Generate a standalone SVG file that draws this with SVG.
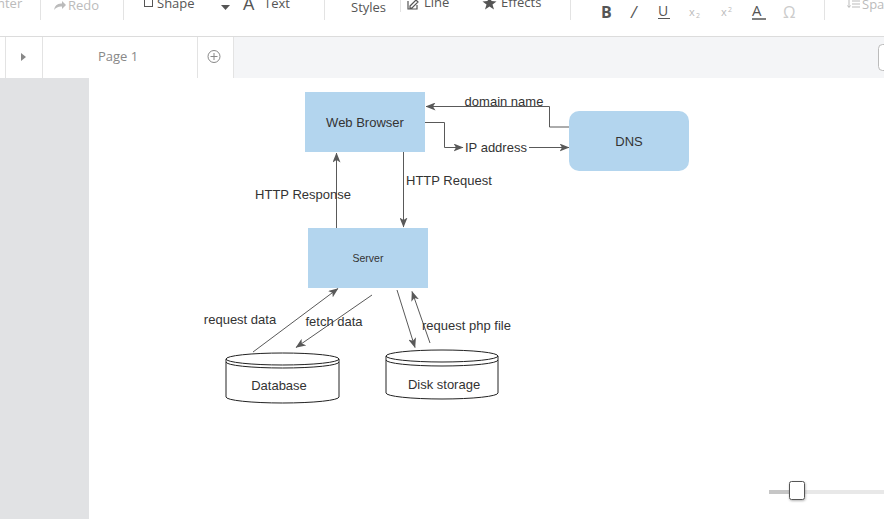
<svg xmlns="http://www.w3.org/2000/svg" width="884" height="519" viewBox="0 0 884 519">
<defs>
<marker id="arr" viewBox="0 0 10 8" refX="9.5" refY="4" markerWidth="10" markerHeight="8" markerUnits="userSpaceOnUse" orient="auto">
<path d="M0,0 L10,4 L0,8 L2.5,4 Z" fill="#595959"/>
</marker>
<filter id="sh" x="-30%" y="-30%" width="160%" height="160%"><feDropShadow dx="0.5" dy="1" stdDeviation="1" flood-color="#000" flood-opacity="0.3"/></filter>
</defs>
<style>
.ui{font-family:"Open Sans","Liberation Sans",sans-serif;font-size:13px;fill:#555}
.dis{fill:#bbb}
.sep{stroke:#e3e3e3;stroke-width:1}
.t{font-family:"Liberation Sans",Arial,sans-serif;font-size:13px;fill:#333}
.node{fill:#b3d5ee}
.cyl{fill:#fff;stroke:#222;stroke-width:1}
.edge{fill:none;stroke:#595959;stroke-width:1}
</style>
<rect width="884" height="519" fill="#fff"/>
<!-- toolbar -->
<g id="toolbar">
<text class="ui dis" x="-3" y="8">nter</text>
<line class="sep" x1="40.5" y1="0" x2="40.5" y2="20"/>
<path d="M54,10 Q55,3 62,3.5 L62,1 L66,5 L62,9 L62,6.5 Q57,6 54,10 Z" fill="#bbb"/>
<text class="ui dis" x="68" y="10">Redo</text>
<line class="sep" x1="123.5" y1="0" x2="123.5" y2="20"/>
<rect x="144.5" y="-1.5" width="8" height="8" fill="none" stroke="#555" stroke-width="1"/>
<text class="ui" x="157" y="8">Shape</text>
<path d="M221,5 L230,5 L225.5,10 Z" fill="#555"/>
<text class="ui" x="243" y="10" style="font-size:18px">A</text>
<text class="ui" x="264" y="8">Text</text>
<line class="sep" x1="324.5" y1="0" x2="324.5" y2="20"/>
<text class="ui" x="351" y="12">Styles</text>
<line class="sep" x1="400.5" y1="0" x2="400.5" y2="12"/>
<path d="M408,1 L408,9 L417,9 L417,5 M410,6 L416,0 L418,2 L412,8 L410,8 Z" fill="none" stroke="#555" stroke-width="1.2"/>
<text class="ui" x="424" y="7">Line</text>
<polygon points="489.5,-4 491.5,1 496.5,1.5 492.5,4.5 494,9.5 489.5,6.5 485,9.5 486.5,4.5 482.5,1.5 487.5,1" fill="#555"/>
<text class="ui" x="501" y="7">Effects</text>
<line class="sep" x1="570.5" y1="0" x2="570.5" y2="20"/>
<text class="ui" x="601" y="18" style="font-weight:bold;font-size:16px">B</text>
<text class="ui" x="631" y="18" style="font-style:italic;font-size:16px">/</text>
<text class="ui" x="658" y="16" style="font-size:14px">U</text>
<line x1="658" y1="18.5" x2="670" y2="18.5" stroke="#555" stroke-width="1"/>
<text class="ui dis" x="689" y="16" style="font-size:11px">x</text><text class="ui dis" x="696" y="18" style="font-size:7px">2</text>
<text class="ui dis" x="721" y="16" style="font-size:11px">x</text><text class="ui dis" x="728" y="12" style="font-size:7px">2</text>
<text class="ui" x="752" y="16" style="font-size:15px">A</text>
<line x1="752" y1="19" x2="766" y2="19" stroke="#555" stroke-width="1.5"/>
<text class="ui dis" x="783" y="18" style="font-size:16px;fill:#ccc">Ω</text>
<line class="sep" x1="824.5" y1="0" x2="824.5" y2="20"/>
<path d="M849,0 L849,7 M847.5,5.5 L849,7.5 L850.5,5.5 M852,1 L860,1 M852,4 L860,4 M852,7 L860,7" stroke="#bbb" stroke-width="1" fill="none"/>
<text class="ui dis" x="862" y="9">Spa</text>
<line x1="0" y1="36.5" x2="884" y2="36.5" stroke="#dcdcdc"/>
</g>
<!-- tab bar -->
<g id="tabbar">
<rect x="0" y="37" width="884" height="41" fill="#f4f5f7"/>
<rect x="0" y="37" width="233" height="41" fill="#fff"/>
<line class="sep" x1="5.5" y1="37" x2="5.5" y2="78"/>
<line class="sep" x1="42.5" y1="37" x2="42.5" y2="78"/>
<line class="sep" x1="197.5" y1="37" x2="197.5" y2="78"/>
<line class="sep" x1="233.5" y1="37" x2="233.5" y2="78"/>
<path d="M21,53 L26,57 L21,61 Z" fill="#888"/>
<text class="ui" x="98" y="61" style="fill:#888">Page 1</text>
<circle cx="214" cy="56.5" r="6" fill="none" stroke="#888" stroke-width="1"/>
<path d="M214,53 L214,60 M210.5,56.5 L217.5,56.5" stroke="#888" stroke-width="1"/>
<rect x="878.5" y="44.5" width="12" height="26" rx="4" fill="#fff" stroke="#bbb"/>
</g>
<rect x="0" y="78" width="89" height="441" fill="#e1e2e4"/>
<!-- connectors -->
<g id="connectors">
<path class="edge" d="M569,127 L549.5,127 L549.5,106.5 L426,106.5" marker-end="url(#arr)"/>
<path class="edge" d="M425,122.5 L444.5,122.5 L444.5,147.5 L463,147.5" marker-end="url(#arr)"/>
<path class="edge" d="M529,147.5 L569,147.5" marker-end="url(#arr)"/>
<path class="edge" d="M336.5,228 L336.5,153" marker-end="url(#arr)"/>
<path class="edge" d="M403.5,152 L403.5,227" marker-end="url(#arr)"/>
<path class="edge" d="M253,352 L338,288.5" marker-end="url(#arr)"/>
<path class="edge" d="M372,295 L296,347.5" marker-end="url(#arr)"/>
<path class="edge" d="M397,290 L415,347.5" marker-end="url(#arr)"/>
<path class="edge" d="M430,343 L412,291.5" marker-end="url(#arr)"/>
<text class="t" x="504" y="106" text-anchor="middle">domain name</text>
<text class="t" x="465" y="152">IP address</text>
<text class="t" x="303" y="199" text-anchor="middle">HTTP Response</text>
<text class="t" x="406" y="185">HTTP Request</text>
<text class="t" x="240" y="324" text-anchor="middle">request data</text>
<text class="t" x="334" y="326" text-anchor="middle">fetch data</text>
<text class="t" x="422" y="330">request php file</text>
</g>
<!-- nodes -->
<g id="web-browser">
<rect class="node" x="305" y="92" width="120" height="60"/>
<text class="t" x="365" y="127" text-anchor="middle">Web Browser</text>
</g>
<g id="dns">
<rect class="node" x="569" y="111" width="120" height="60" rx="10"/>
<text class="t" x="629" y="146" text-anchor="middle">DNS</text>
</g>
<g id="server">
<rect class="node" x="308" y="228" width="120" height="60"/>
<text class="t" x="368" y="262" text-anchor="middle" style="font-size:10.5px">Server</text>
</g>
<g id="database">
<path class="cyl" d="M226,359 L226,397 A56.5,6 0 0 0 339,397 L339,359 A56.5,6 0 0 0 226,359 Z"/>
<path class="cyl" style="fill:none" d="M226,359 A56.5,6 0 0 0 339,359 M226,362 A56.5,6 0 0 0 339,362"/>
<text class="t" x="279" y="390" text-anchor="middle">Database</text>
</g>
<g id="disk-storage">
<path class="cyl" d="M386,356 L386,393 A56,6 0 0 0 498,393 L498,356 A56,6 0 0 0 386,356 Z"/>
<path class="cyl" style="fill:none" d="M386,356 A56,6 0 0 0 498,356 M386,360 A56,6 0 0 0 498,360"/>
<text class="t" x="444" y="389" text-anchor="middle">Disk storage</text>
</g>
<!-- zoom slider -->
<g id="slider">
<rect x="769" y="490" width="115" height="4" fill="#e8e8e8"/>
<rect x="769" y="490" width="22" height="4" fill="#c6c6c6"/>
<rect x="789.5" y="481.5" width="15" height="18" rx="2" fill="#fff" stroke="#555" filter="url(#sh)"/>
</g>
</svg>
